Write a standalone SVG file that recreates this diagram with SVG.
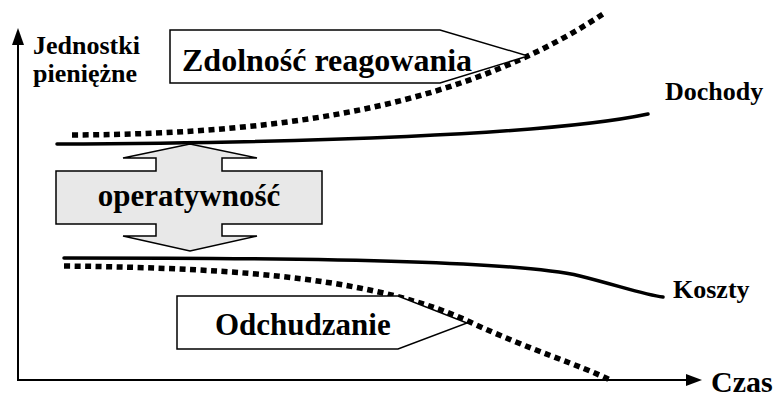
<svg xmlns="http://www.w3.org/2000/svg" width="777" height="397" viewBox="0 0 777 397">
<style>
text{font-family:'Liberation Serif','DejaVu Serif',serif;font-weight:bold;fill:#000}
.big{font-size:31px}
.lbl{font-size:26px}
.solid{fill:none;stroke:#000;stroke-width:3.5;stroke-linecap:round}
.dot{fill:none;stroke:#000;stroke-width:5.5;stroke-dasharray:6 4.5}
.box{fill:#fff;stroke:#000;stroke-width:1.5}
</style>
<rect width="777" height="397" fill="#fff"/>
<g id="axes">
<line x1="18" y1="380" x2="18" y2="31" stroke="#000" stroke-width="2"/>
<path d="M18,28 L12,45 L24,45 z" fill="#000"/>
<line x1="17" y1="380" x2="690" y2="380" stroke="#000" stroke-width="2"/>
<path d="M702,380 L686,374 L686,386 z" fill="#000"/>
<text x="711" y="392" style="font-size:30px">Czas</text>
<text x="33" y="54" class="lbl">Jednostki</text>
<text x="33" y="82" class="lbl">pieniężne</text>
</g>
<g id="connectors">
<path class="dot" d="M72,135 C300,134 470,102 603,14"/>
<path class="solid" d="M57,144 C300,143 550,135 648,114"/>
<path class="solid" d="M64,258 C350,258 520,262 580,276 C620,286 645,295 663,297"/>
<path class="dot" d="M64,266 C250,268 380,280 470,322 C530,350 580,365 610,380"/>
</g>
<g id="zdolnosc">
<path class="box" d="M170,30 L440,30 L528,56 L440,83 L170,83 z"/>
<text x="182" y="71" class="big" style="font-size:32px">Zdolność reagowania</text>
</g>
<g id="dochody"><text x="665" y="100" class="lbl">Dochody</text></g>
<g id="koszty"><text x="673" y="298" class="lbl">Koszty</text></g>
<g id="operatywnosc">
<path d="M190,144 L257,158 L222,158 L222,171 L322,171 L322,224 L222,224 L222,236 L257,236 L190,251 L123,236 L156,236 L156,224 L56,224 L56,171 L156,171 L156,158 L123,158 z" fill="#e8e8e8" stroke="#000" stroke-width="1.5"/>
<text x="189" y="206" class="big" text-anchor="middle">operatywność</text>
</g>
<g id="odchudzanie">
<path class="box" d="M177,296 L398,296 L467,323 L398,349 L177,349 z"/>
<text x="215" y="335" class="big">Odchudzanie</text>
</g>
</svg>
